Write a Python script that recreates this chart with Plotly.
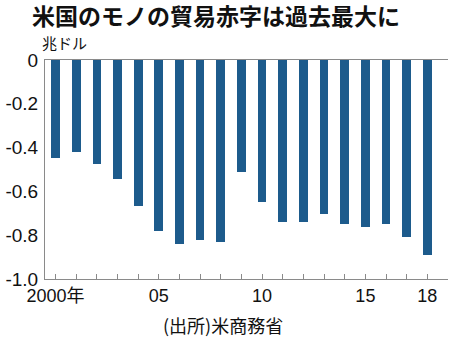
import plotly.graph_objects as go

# US goods trade balance (trillion dollars)
years = list(range(2000, 2019))
balance = [-0.446, -0.422, -0.475, -0.542, -0.665, -0.783, -0.838, -0.823, -0.832,
           -0.510, -0.649, -0.741, -0.741, -0.702, -0.751, -0.762, -0.750, -0.807, -0.891]

x_labels = {2000: "2000年", 2005: "05", 2010: "10", 2015: "15", 2018: "18"}
y_ticks = [0, -0.2, -0.4, -0.6, -0.8, -1.0]
y_tick_text = ["0", "-0.2", "-0.4", "-0.6", "-0.8", "-1.0"]

title_text = "米国のモノの貿易赤字は過去最大に"
unit_text = "兆ドル"
source_text = "(出所)米商務省"

NUM_FONT = "Liberation Sans Narrow, Arial Narrow, Liberation Sans, Noto Sans CJK JP"
JP_FONT = "Noto Sans CJK JP, sans-serif"
AXIS_GRAY = "#8a8a8a"

fig = go.Figure(
    go.Bar(
        x=years,
        y=balance,
        width=0.42,
        marker=dict(color="#1d5b8c", line=dict(width=0)),
        hoverinfo="skip",
    )
)

fig.update_layout(
    width=450,
    height=338,
    margin=dict(l=45, r=2, t=60, b=59),
    paper_bgcolor="white",
    plot_bgcolor="white",
    showlegend=False,
    bargap=0,
    title=dict(
        text=title_text,
        x=32 / 450,
        xanchor="left",
        xref="container",
        y=1 - 17 / 338,
        yanchor="middle",
        yref="container",
        font=dict(family=JP_FONT, size=23, color="#111111", weight="bold"),
    ),
)

fig.update_xaxes(
    range=[1999.49, 2019.0],
    tickmode="array",
    tickvals=years,
    ticktext=[x_labels.get(y, "") for y in years],
    ticks="inside",
    ticklen=5,
    tickwidth=1,
    tickcolor=AXIS_GRAY,
    showline=True,
    linecolor=AXIS_GRAY,
    linewidth=1,
    mirror=True,
    showgrid=False,
    zeroline=False,
    tickfont=dict(family=NUM_FONT, size=18, color="#111111"),
    fixedrange=True,
)

fig.update_yaxes(
    range=[-1.0, 0],
    tickmode="array",
    tickvals=y_ticks,
    ticktext=y_tick_text,
    ticks="",
    showline=True,
    linecolor=AXIS_GRAY,
    linewidth=1,
    showgrid=False,
    zeroline=False,
    tickfont=dict(family=NUM_FONT, size=19, color="#111111"),
    ticklabelstandoff=2,
    fixedrange=True,
)

fig.add_annotation(
    text=unit_text,
    xref="paper", yref="paper",
    x=(40 - 45) / 403, y=1 + (60 - 42) / 219,
    xanchor="left", yanchor="middle",
    showarrow=False,
    font=dict(family=JP_FONT, size=15, color="#111111"),
)

fig.add_annotation(
    text=source_text,
    xref="paper", yref="paper",
    x=(223 - 45) / 403, y=-(325 - 279) / 219,
    xanchor="center", yanchor="middle",
    showarrow=False,
    font=dict(family=JP_FONT, size=18, color="#111111"),
)

fig.write_html("out.html", config={"displayModeBar": False})
